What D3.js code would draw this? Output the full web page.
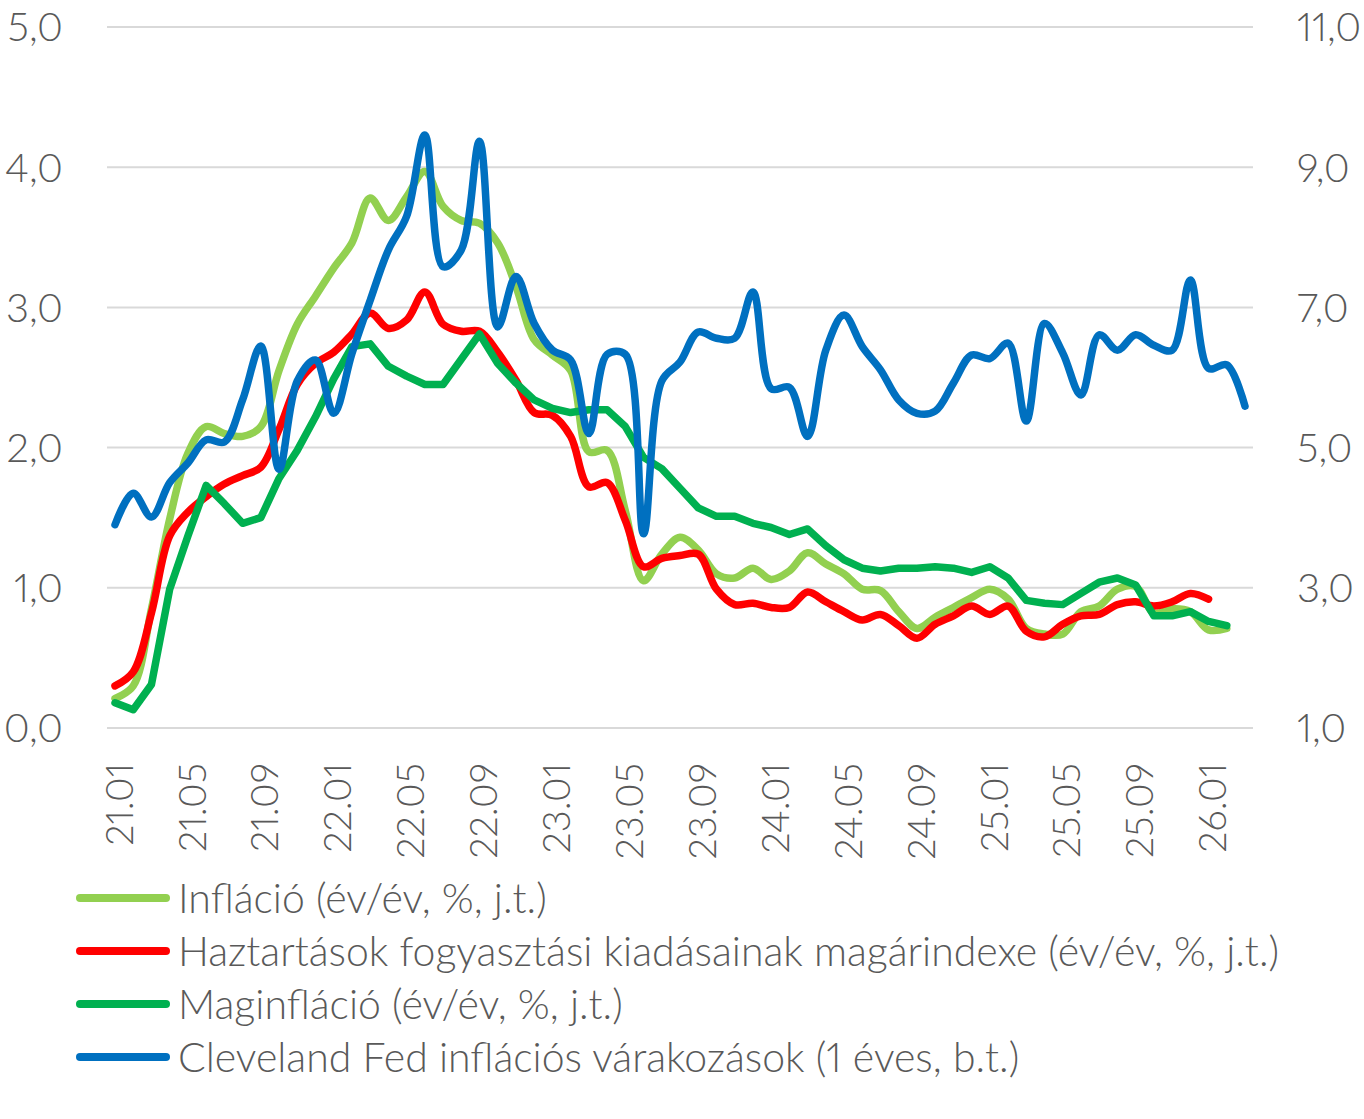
<!DOCTYPE html>
<html>
<head>
<meta charset="utf-8">
<script src="https://cdn.jsdelivr.net/npm/d3@7"></script>
<style>
  body { margin: 0; background: #fff; }
  text { font-family: Lato, "Open Sans", sans-serif; font-weight: 300; fill: #595959; font-variant-numeric: proportional-nums; }
</style>
</head>
<body>
<div id="chart"></div>
<script>
const months = [
  "21.01","21.02","21.03","21.04","21.05","21.06","21.07","21.08","21.09","21.10","21.11","21.12",
  "22.01","22.02","22.03","22.04","22.05","22.06","22.07","22.08","22.09","22.10","22.11","22.12",
  "23.01","23.02","23.03","23.04","23.05","23.06","23.07","23.08","23.09","23.10","23.11","23.12",
  "24.01","24.02","24.03","24.04","24.05","24.06","24.07","24.08","24.09","24.10","24.11","24.12",
  "25.01","25.02","25.03","25.04","25.05","25.06","25.07","25.08","25.09","25.10","25.11","25.12",
  "26.01","26.02","26.03"
];
const tickMonths = ["21.01","21.05","21.09","22.01","22.05","22.09","23.01","23.05","23.09",
  "24.01","24.05","24.09","25.01","25.05","25.09","26.01"];

// Infláció (év/év, %, j.t.)
const inflacio = [0.21,0.30,0.85,1.49,1.96,2.15,2.10,2.08,2.15,2.55,
  2.88,3.08,3.28,3.46,3.78,3.62,3.79,3.97,3.72,3.62,
  3.60,3.46,3.15,2.77,2.66,2.55,1.97,1.98,1.55,1.05,
  1.24,1.36,1.27,1.10,1.07,1.14,1.06,1.12,1.25,1.17,
  1.10,0.99,0.98,0.83,0.71,0.79,0.86,0.93,0.99,0.92,
  0.71,0.67,0.67,0.83,0.87,0.99,1.01,0.82,0.85,0.83,
  0.70,0.71];
// Háztartások fogyasztási kiadásainak magárindexe
const haztartas = [0.30,0.40,0.82,1.37,1.54,1.65,1.74,1.80,1.86,2.13,
  2.45,2.60,2.68,2.81,2.96,2.85,2.91,3.11,2.88,2.83,
  2.83,2.68,2.48,2.25,2.23,2.08,1.72,1.75,1.48,1.15,
  1.21,1.23,1.24,0.99,0.88,0.89,0.86,0.86,0.97,0.90,
  0.83,0.77,0.81,0.73,0.64,0.74,0.80,0.87,0.81,0.87,
  0.69,0.65,0.74,0.80,0.81,0.88,0.90,0.87,0.90,0.96,
  0.92];
// Maginfláció
const maginflacio = [0.18,0.13,0.31,0.99,1.37,1.73,1.60,1.46,1.50,1.78,
  1.98,2.22,2.49,2.72,2.74,2.58,2.51,2.45,2.45,2.63,
  2.81,2.60,2.46,2.34,2.28,2.25,2.27,2.27,2.15,1.93,
  1.85,1.71,1.57,1.51,1.51,1.46,1.43,1.38,1.42,1.30,
  1.20,1.14,1.12,1.14,1.14,1.15,1.14,1.11,1.15,1.07,
  0.91,0.89,0.88,0.96,1.04,1.07,1.02,0.80,0.80,0.83,
  0.76,0.73];
// Cleveland Fed inflációs várakozások (jobb tengely)
const clevelandFed = [3.90,4.35,4.01,4.50,4.78,5.11,5.08,5.68,6.45,4.69,
  5.95,6.25,5.49,6.34,7.10,7.82,8.30,9.46,7.58,7.82,
  9.37,6.72,7.44,6.77,6.39,6.25,5.20,6.33,6.33,3.77,
  5.95,6.22,6.65,6.56,6.56,7.22,5.84,5.86,5.16,6.39,
  6.89,6.44,6.11,5.68,5.49,5.52,5.92,6.32,6.27,6.49,
  5.38,6.77,6.35,5.75,6.61,6.39,6.61,6.46,6.39,7.39,
  6.13,6.18,5.59];

const leftTicks = [0, 1, 2, 3, 4, 5];
const rightTicks = [1, 3, 5, 7, 9, 11];
const legendLabels = [
  "Infláció (év/év, %, j.t.)",
  "Haztartások fogyasztási kiadásainak magárindexe (év/év, %, j.t.)",
  "Maginfláció (év/év, %, j.t.)",
  "Cleveland Fed inflációs várakozások (1 éves, b.t.)"
];

const width = 1364, height = 1119;
const plot = { left: 107, right: 1253, top: 27, bottom: 728 };
const fmt = (v) => v.toFixed(1).replace(".", ",");

const svg = d3.select("#chart").append("svg")
  .attr("width", width)
  .attr("height", height);

const x = d3.scalePoint().domain(months).range([115, 1245]);
const yLeft = d3.scaleLinear().domain([0, 5]).range([plot.bottom, plot.top]);
const yRight = d3.scaleLinear().domain([1, 11]).range([plot.bottom, plot.top]);

// gridlines
svg.append("g")
  .selectAll("line")
  .data(leftTicks)
  .enter()
  .append("line")
  .attr("x1", plot.left)
  .attr("x2", plot.right)
  .attr("y1", (d) => yLeft(d))
  .attr("y2", (d) => yLeft(d))
  .attr("stroke", "#d9d9d9")
  .attr("stroke-width", 2);

// left axis labels
svg.append("g")
  .selectAll("text")
  .data(leftTicks)
  .enter()
  .append("text")
  .attr("x", 63)
  .attr("y", (d) => yLeft(d))
  .attr("dy", "0.36em")
  .attr("text-anchor", "end")
  .style("font-size", "40px")
  .text(fmt);

// right axis labels
svg.append("g")
  .selectAll("text")
  .data(rightTicks)
  .enter()
  .append("text")
  .attr("x", 1297)
  .attr("y", (d) => yRight(d))
  .attr("dy", "0.36em")
  .attr("text-anchor", "start")
  .style("font-size", "40px")
  .text(fmt);

// x labels, rotated
svg.append("g")
  .selectAll("text")
  .data(tickMonths)
  .enter()
  .append("text")
  .attr("transform", (d) => `translate(${x(d) + 4},763) rotate(-90)`)
  .attr("dy", "0.36em")
  .attr("text-anchor", "end")
  .style("font-size", "38px")
  .text((d) => d);

const series = [
  { name: legendLabels[0], values: inflacio, color: "#92d050", y: yLeft, curve: d3.curveCatmullRom.alpha(0.5) },
  { name: legendLabels[1], values: haztartas, color: "#ff0000", y: yLeft, curve: d3.curveCatmullRom.alpha(0.5) },
  { name: legendLabels[2], values: maginflacio, color: "#00b050", y: yLeft, curve: d3.curveLinear },
  { name: legendLabels[3], values: clevelandFed, color: "#0070c0", y: yRight, curve: d3.curveCatmullRom.alpha(0.5) }
];

series.forEach((s) => {
  const line = d3.line()
    .x((d, i) => x(months[i]))
    .y((d) => s.y(d))
    .curve(s.curve);
  svg.append("path")
    .datum(s.values)
    .attr("d", line)
    .attr("fill", "none")
    .attr("stroke", s.color)
    .attr("stroke-width", 7.5)
    .attr("stroke-linejoin", "round")
    .attr("stroke-linecap", "round");
});

// legend
const legend = svg.append("g")
  .selectAll("g")
  .data(series)
  .enter()
  .append("g")
  .attr("transform", (d, i) => `translate(0,${898 + i * 53})`);

legend.append("line")
  .attr("x1", 80)
  .attr("x2", 166)
  .attr("stroke", (d) => d.color)
  .attr("stroke-width", 8)
  .attr("stroke-linecap", "round");

legend.append("text")
  .attr("x", 178)
  .attr("dy", "0.36em")
  .style("font-size", "41px")
  .text((d) => d.name);
</script>
</body>
</html>
